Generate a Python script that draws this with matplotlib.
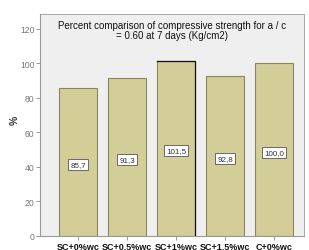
import matplotlib
matplotlib.use("Agg")
import matplotlib.pyplot as plt

categories = ["SC+0%wc", "SC+0.5%wc", "SC+1%wc", "SC+1.5%wc", "C+0%wc"]
values = [85.7, 91.3, 101.5, 92.8, 100.0]
labels = ["85,7", "91,3", "101,5", "92,8", "100,0"]
yticks = [0, 20, 40, 60, 80, 100, 120]
title = "Percent comparison of compressive strength for a / c\n= 0.60 at 7 days (Kg/cm2)"

plt.rcParams['font.family'] = ['Liberation Sans', 'DejaVu Sans']

fig = plt.figure(figsize=(3.09, 2.51), dpi=100)
fig.patch.set_facecolor('white')
ax = fig.add_axes([40/309, 1-237/251, (304-40)/309, (237-15)/251])
ax.set_facecolor('#EFEFEF')

x = list(range(len(categories)))
bw = 0.76
bars = ax.bar(x, values, width=bw, color='#D3CE97', edgecolor='#8A8760', linewidth=0.8, zorder=2)
# highlighted bar: dark top and right edge
b = bars[2]
ax.plot([b.get_x(), b.get_x() + b.get_width(), b.get_x() + b.get_width()],
        [b.get_height(), b.get_height(), 0], color='#111111', lw=0.9, zorder=3)

for xi, v, lab in zip(x, values, labels):
    ax.text(xi, v/2 - 1.5, lab, ha='center', va='center', fontsize=5.8, color='#333333',
            bbox=dict(boxstyle='square,pad=0.25', fc='white', ec='#555555', lw=0.6), zorder=4)

ax.set_xlim(-0.776, 4.612)
ax.set_ylim(0, 128.4)
ax.set_yticks(yticks)
ax.set_yticklabels([str(t) for t in yticks], fontsize=6.2, color='#777777')
ax.set_xticks(x)
ax.set_xticklabels(categories, fontsize=6.5, color='#111111', fontweight='bold')
ax.tick_params(axis='y', length=3, width=0.6, color='#888888', pad=1)
ax.tick_params(axis='x', length=3, width=0.6, color='#888888', pad=1)
for s in ['top', 'right']:
    ax.spines[s].set_color('#999999')
    ax.spines[s].set_linewidth(0.6)
for s in ['left', 'bottom']:
    ax.spines[s].set_color('#999999')
    ax.spines[s].set_linewidth(0.8)

ax.text(0.5, (237-31)/222, title, transform=ax.transAxes, ha='center', va='center',
        fontsize=7, color='#111111', linespacing=1.0)

fig.text(15/309, 1-120/251, "%", rotation=90, ha='center', va='center', fontsize=7.5,
         color='#333333', fontweight='bold')

fig.savefig('out.png', dpi=100)
